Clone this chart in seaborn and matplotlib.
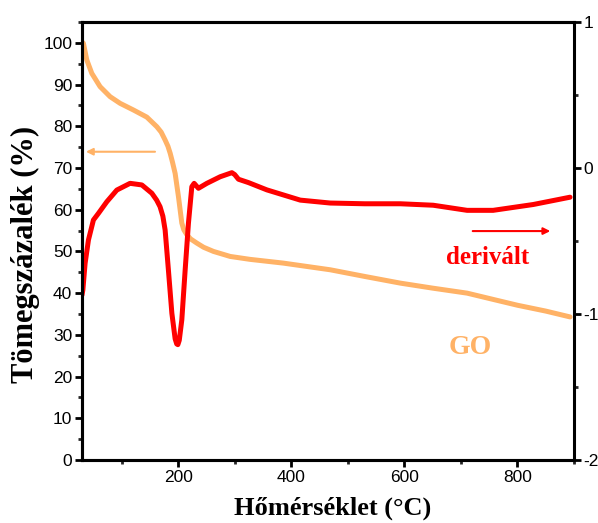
import matplotlib
matplotlib.use("Agg")
import matplotlib.pyplot as plt
import seaborn as sns
import pandas as pd
from matplotlib.ticker import MultipleLocator

sns.set_theme(style="white")
plt.rcParams['font.family'] = ['Liberation Sans', 'DejaVu Sans']
plt.rcParams['axes.unicode_minus'] = False

# TGA curve (weight %)
tga_temp = [28, 32.5, 38.5, 47.3, 62, 79.7, 97.4, 121, 144.6, 162.3, 170, 177, 182, 186,
            190, 194.7, 200.6, 206.5, 210, 215.4, 222, 233, 245, 262.5, 292, 327, 386,
            469, 530, 593, 650, 711, 760, 800, 850, 893]
tga_wt = [100.5, 99.9, 95.9, 92.7, 89.5, 87.1, 85.5, 83.9, 82.2, 79.9, 78.6, 76.7, 75.2,
          73.5, 71.4, 68.7, 63.1, 56.8, 55.2, 54.0, 53.0, 52.0, 51.0, 50.0, 48.8, 48.1,
          47.2, 45.6, 44, 42.4, 41.2, 40, 38.4, 37.1, 35.7, 34.3]

# Derivative curve
der_temp = [30, 31.5, 35.5, 41.4, 50.2, 59, 73.9, 91.6, 115, 135.8, 153.5, 162, 168, 173,
            177, 182.8, 188.9, 194.7, 197.5, 199.5, 202, 206.5, 212.4, 218.2, 224.2, 228.3,
            235.9, 250.8, 274.3, 295, 300, 306.7, 324.4, 357, 416, 469, 530, 593, 651,
            711, 757, 828, 893]
der_val = [-0.87, -0.836, -0.653, -0.493, -0.356, -0.311, -0.231, -0.151, -0.105, -0.116,
           -0.173, -0.22, -0.265, -0.33, -0.425, -0.699, -0.995, -1.17, -1.205, -1.21,
           -1.18, -1.04, -0.699, -0.379, -0.128, -0.105, -0.139, -0.105, -0.060, -0.032,
           -0.045, -0.077, -0.10, -0.15, -0.22, -0.24, -0.245, -0.245, -0.255, -0.29,
           -0.29, -0.25, -0.20]

tga = pd.DataFrame({"T": tga_temp, "wt": tga_wt})
der = pd.DataFrame({"T": der_temp, "d": der_val})

orange = "#FFB266"
red = "#FF0000"

fig = plt.figure(figsize=(5.98, 5.23), dpi=100)
ax = fig.add_axes([82/598, 1-460/523, (574-82)/598, (460-22)/523])
ax2 = ax.twinx()

sns.lineplot(data=tga, x="T", y="wt", ax=ax, color=orange, lw=3.6, sort=False)
sns.lineplot(data=der, x="T", y="d", ax=ax2, color=red, lw=3.6, sort=False)

ax.set_xlim(30, 900)
ax.set_ylim(0, 105)
ax2.set_ylim(-2, 1)

ax.xaxis.set_major_locator(MultipleLocator(200))
ax.xaxis.set_minor_locator(MultipleLocator(100))
ax.yaxis.set_major_locator(MultipleLocator(10))
ax.yaxis.set_minor_locator(MultipleLocator(5))
ax2.yaxis.set_major_locator(MultipleLocator(1))
ax2.yaxis.set_minor_locator(MultipleLocator(0.5))

for a in (ax, ax2):
    for s in a.spines.values():
        s.set_linewidth(2.2)
        s.set_color("black")
ax.spines['right'].set_visible(False)

ax.tick_params(axis='both', which='major', direction='out', length=5, width=2,
               labelsize=12.5, colors='black', bottom=True, left=True, pad=2)
ax.tick_params(axis='both', which='minor', direction='out', length=3, width=2,
               bottom=True, left=True)
ax2.tick_params(axis='y', which='major', direction='out', length=5, width=2,
                labelsize=12.5, colors='black', right=True, pad=2)
ax2.tick_params(axis='y', which='minor', direction='out', length=3, width=2, right=True)

serif = ['Liberation Serif', 'DejaVu Serif']
ax.set_xlabel("Hőmérséklet (°C)", family=serif, fontweight='bold', fontsize=19, color='black')
ax.set_ylabel("Tömegszázalék (%)", family=serif, fontweight='bold', fontsize=22, color='black')
ax2.set_ylabel("")
ax.xaxis.set_label_coords(0.51, -0.083)
ax.yaxis.set_label_coords(-0.085, 0.47)

ax.grid(False)
ax2.grid(False)

# annotations
ax.annotate("", xy=(32, 73.9), xytext=(164, 73.9),
            arrowprops=dict(arrowstyle="-|>", color=orange, lw=1.5, mutation_scale=10))
ax2.annotate("", xy=(863, -0.432), xytext=(716, -0.432),
             arrowprops=dict(arrowstyle="-|>", color=red, lw=1.5, mutation_scale=10))
ax.text(747, 48.5, "derivált", color=red, family=serif, fontweight='bold', fontsize=18,
        ha='center', va='center')
ax.text(716, 27, "GO", color=orange, family=serif, fontweight='bold', fontsize=20,
        ha='center', va='center')

fig.savefig("out.png", dpi=100)
